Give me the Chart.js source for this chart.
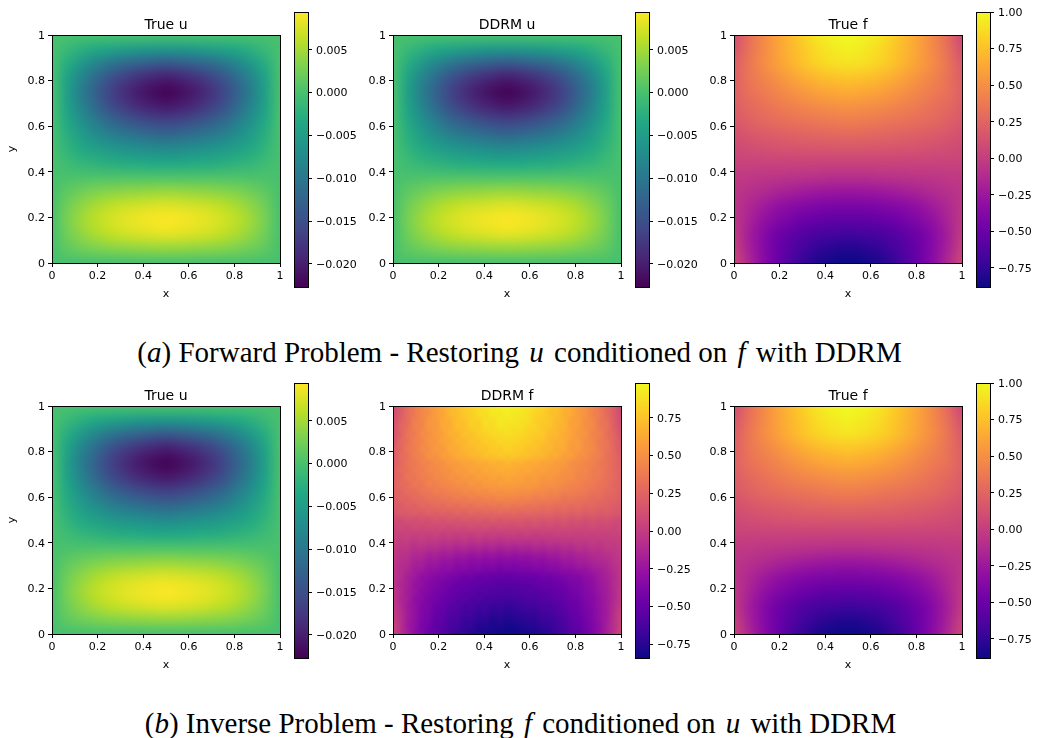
<!DOCTYPE html>
<html>
<head>
<meta charset="utf-8">
<title>DDRM forward and inverse problem</title>
<script src="https://cdn.jsdelivr.net/npm/chart.js@4"></script>
<style>
    html, body { margin: 0; background: #fff; }
    #page { position: relative; width: 1037px; height: 738px; overflow: hidden; }
    #page canvas { position: absolute; }
    .caption {
        position: absolute; transform: translateX(-50%);
        font-family: "Liberation Serif", serif; font-size: 29px; color: #000; white-space: nowrap;
    }
    .caption b { font-weight: normal; font-style: italic; margin: 0 3px; }
</style>
</head>
<body>
<div id="page">
    <div class="caption" style="left: 519.5px; top: 336px">(<i>a</i>) Forward Problem - Restoring <b>u</b> conditioned on <b>f</b> with DDRM</div>
    <div class="caption" style="left: 520.5px; top: 707px">(<i>b</i>) Inverse Problem - Restoring <b>f</b> conditioned on <b>u</b> with DDRM</div>
</div>
<script>
// u values in units of 1e-4, rows run from y=1 down to y=0
const trueU = [
    [0,0,0,0,0,0,0,0,0,0,0,0,0,0,0,0,0],
    [0,-12,-24,-34,-43,-50,-55,-58,-60,-58,-55,-50,-43,-34,-24,-12,0],
    [0,-28,-56,-80,-101,-116,-127,-136,-140,-136,-127,-116,-101,-80,-56,-28,0],
    [0,-40,-80,-114,-144,-166,-182,-194,-200,-194,-182,-166,-144,-114,-80,-40,0],
    [0,-44,-89,-127,-160,-184,-202,-215,-224,-215,-202,-184,-160,-127,-89,-44,0],
    [0,-41,-82,-117,-148,-170,-187,-199,-205,-199,-187,-170,-148,-117,-82,-41,0],
    [0,-33,-66,-94,-119,-137,-150,-160,-165,-160,-150,-137,-119,-94,-66,-33,0],
    [0,-26,-50,-70,-87,-100,-109,-116,-120,-116,-109,-100,-87,-70,-50,-26,0],
    [0,-18,-33,-46,-56,-63,-68,-72,-75,-72,-68,-63,-56,-46,-33,-18,0],
    [0,-8,-16,-22,-27,-30,-32,-34,-35,-34,-32,-30,-27,-22,-16,-8,0],
    [0,2,3,4,5,5,5,5,5,5,5,5,5,4,3,2,0],
    [0,13,23,31,36,40,42,44,45,44,42,40,36,31,23,13,0],
    [0,22,39,52,62,69,73,77,79,77,73,69,62,52,39,22,0],
    [0,26,46,61,72,80,86,90,93,90,86,80,72,61,46,26,0],
    [0,22,39,52,62,69,74,78,80,78,74,69,62,52,39,22,0],
    [0,13,22,29,34,37,39,41,42,41,39,37,34,29,22,13,0],
    [0,0,0,0,0,0,0,0,0,0,0,0,0,0,0,0,0]
];
// DDRM u can't be told apart from true u in the picture
const ddrmU = trueU;

// f values in hundredths, same row order
const trueF = [
    [10,30,45,60,72,84,93,98,100,98,93,84,72,60,45,28,6],
    [15,32,46,59,70,80,88,93,96,93,88,80,70,59,46,31,12],
    [20,35,47,58,68,77,84,88,90,88,84,77,68,58,47,34,18],
    [22,34,43,51,59,66,72,75,77,75,72,66,59,51,43,33,21],
    [22,32,38,44,50,55,60,63,65,63,60,55,50,44,38,32,22],
    [20,27,32,37,41,45,48,50,52,50,48,45,41,37,32,27,20],
    [17,23,27,30,33,35,37,39,40,39,37,35,33,30,27,23,17],
    [12,16,19,21,23,25,26,27,28,27,26,25,23,21,19,16,12],
    [7,10,11,13,14,15,15,16,16,16,15,15,14,13,11,10,7],
    [3,3,3,3,3,3,3,3,3,3,3,3,3,3,3,3,3],
    [-3,-4,-5,-6,-7,-8,-9,-10,-10,-10,-9,-8,-7,-6,-5,-4,-3],
    [-5,-9,-13,-17,-20,-23,-25,-26,-27,-26,-25,-23,-20,-17,-13,-9,-5],
    [-5,-14,-22,-29,-34,-38,-40,-42,-42,-42,-40,-38,-34,-29,-22,-14,-5],
    [-4,-17,-29,-38,-45,-50,-53,-55,-56,-55,-53,-50,-45,-38,-29,-17,-4],
    [-2,-20,-35,-47,-55,-62,-66,-68,-69,-68,-66,-62,-55,-47,-35,-20,-2],
    [2,-18,-35,-49,-60,-69,-75,-79,-81,-79,-75,-69,-60,-49,-35,-18,2],
    [6,-14,-33,-50,-64,-75,-83,-87,-88,-87,-83,-75,-64,-50,-33,-14,6]
];

const ddrmF = [
    [8,20,28,38,43,53,56,64,67,74,76,83,84,90,90,94,93,95,90,90,85,83,76,73,68,62,58,50,45,35,29,20,6],
    [10,18,31,36,46,49,58,60,70,71,78,79,86,85,92,90,94,90,91,86,82,80,74,73,66,64,55,52,42,39,28,21,9],
    [12,23,29,40,44,53,55,63,65,73,74,81,80,87,86,91,90,90,87,86,80,78,76,70,68,59,58,49,46,36,32,20,10],
    [11,25,31,41,43,53,54,63,64,72,72,80,79,86,84,89,88,86,87,82,82,76,75,69,67,59,57,50,46,37,33,22,14],
    [16,22,35,37,47,49,57,58,67,66,74,73,80,79,85,83,87,84,84,80,78,77,70,70,63,61,53,52,43,41,31,26,14],
    [15,28,32,41,43,52,53,61,61,69,68,75,74,80,78,84,81,83,80,79,75,74,69,66,65,57,56,48,46,37,35,25,18],
    [21,25,36,38,47,48,56,55,64,63,70,69,75,74,80,77,82,78,79,74,75,69,70,63,64,55,56,48,47,38,35,26,18],
    [18,29,32,41,42,51,50,58,58,65,64,70,69,75,73,78,75,77,74,74,69,70,64,65,58,58,50,50,42,41,32,28,21],
    [23,26,35,36,43,43,50,49,56,55,61,59,65,63,68,65,70,66,67,63,64,59,60,55,56,49,49,44,42,36,34,27,22],
    [21,30,32,39,39,46,45,51,50,57,55,61,58,64,61,66,64,65,61,63,58,60,55,56,50,50,45,45,39,38,33,27,24],
    [25,26,35,34,41,40,47,45,52,50,55,53,59,56,61,58,62,59,60,56,58,53,54,51,49,48,44,43,38,37,32,29,22],
    [22,29,29,37,35,42,40,46,45,51,48,54,51,57,54,58,56,57,55,54,54,50,51,48,47,43,43,39,38,34,32,26,24],
    [24,24,31,30,36,35,41,38,44,42,47,45,50,47,52,49,52,50,49,50,47,47,44,45,41,41,38,37,33,33,28,27,21],
    [19,25,24,30,28,34,32,37,35,40,37,42,39,44,41,46,43,45,42,43,39,41,38,39,34,36,33,33,29,29,25,24,21],
    [21,19,25,23,28,26,31,28,33,30,35,31,36,33,37,34,38,34,36,33,35,31,33,29,32,28,30,26,27,24,24,20,18],
    [15,20,18,22,19,24,21,25,22,27,23,28,24,28,25,29,26,28,25,27,26,25,26,23,25,22,24,20,22,19,21,17,18],
    [11,9,14,11,15,12,17,13,18,14,18,15,19,15,20,16,19,17,18,16,18,15,17,14,17,13,15,12,14,12,13,10,9],
    [6,9,6,10,7,10,8,11,7,11,8,12,9,12,8,11,10,9,11,9,11,8,10,7,11,8,9,7,10,7,9,6,8],
    [5,3,5,2,4,2,5,1,4,1,3,0,4,1,3,1,2,3,1,4,0,3,1,4,2,4,2,4,2,4,3,5,4],
    [3,0,1,-3,0,-3,-2,-5,-3,-6,-3,-7,-4,-7,-5,-8,-5,-7,-5,-7,-4,-6,-3,-5,-2,-4,-1,-3,0,-2,1,0,2],
    [1,-3,-3,-8,-6,-10,-9,-13,-11,-15,-12,-16,-14,-17,-14,-18,-15,-17,-15,-16,-13,-15,-12,-14,-10,-12,-7,-9,-5,-7,-2,-2,0],
    [-1,-6,-7,-13,-13,-18,-17,-21,-19,-24,-22,-26,-23,-27,-24,-28,-25,-27,-25,-26,-23,-25,-21,-22,-17,-19,-15,-15,-11,-10,-8,-4,-2],
    [-2,-8,-10,-17,-17,-23,-22,-27,-26,-30,-29,-33,-31,-34,-32,-36,-33,-35,-33,-33,-30,-32,-28,-28,-24,-24,-20,-19,-16,-13,-12,-6,-3],
    [-3,-10,-13,-20,-21,-27,-27,-32,-31,-36,-35,-39,-37,-41,-39,-43,-40,-42,-39,-40,-37,-38,-34,-35,-30,-31,-26,-26,-21,-19,-15,-8,-4],
    [-5,-9,-18,-21,-29,-30,-36,-36,-41,-41,-46,-44,-49,-47,-51,-49,-52,-49,-50,-47,-48,-44,-45,-41,-41,-36,-36,-30,-28,-21,-17,-11,-3],
    [-3,-13,-17,-26,-28,-36,-37,-43,-43,-49,-48,-53,-51,-55,-53,-57,-55,-56,-53,-54,-51,-50,-48,-46,-45,-40,-39,-33,-30,-23,-19,-10,-5],
    [-4,-10,-20,-24,-33,-35,-42,-42,-49,-49,-54,-53,-58,-56,-60,-58,-61,-58,-59,-56,-57,-53,-53,-49,-48,-43,-41,-35,-32,-24,-19,-12,-2],
    [-2,-13,-18,-29,-32,-40,-42,-48,-49,-55,-54,-60,-59,-63,-61,-65,-63,-64,-62,-60,-60,-57,-56,-52,-51,-45,-44,-37,-34,-26,-20,-11,-3],
    [-2,-10,-21,-27,-36,-39,-47,-48,-55,-56,-62,-61,-66,-65,-69,-67,-70,-68,-67,-65,-65,-61,-61,-56,-54,-48,-46,-39,-35,-26,-20,-10,0],
    [0,-8,-20,-27,-37,-41,-49,-51,-58,-59,-65,-65,-70,-68,-73,-71,-74,-72,-71,-69,-69,-65,-64,-60,-57,-51,-48,-41,-36,-27,-21,-8,2],
    [2,-7,-20,-27,-38,-42,-51,-53,-61,-62,-68,-68,-73,-72,-77,-75,-78,-76,-75,-73,-72,-68,-68,-63,-60,-53,-50,-43,-37,-27,-20,-7,4],
    [5,-6,-21,-28,-40,-44,-53,-55,-63,-65,-71,-71,-77,-76,-80,-79,-82,-80,-79,-76,-76,-71,-71,-66,-62,-55,-52,-45,-38,-29,-18,-8,4],
    [5,-8,-17,-30,-37,-47,-52,-59,-62,-69,-70,-76,-77,-81,-80,-84,-83,-84,-82,-80,-79,-76,-72,-68,-64,-58,-54,-45,-39,-28,-19,-6,7]
];

const axisTicks = [0, 0.2, 0.4, 0.6, 0.8, 1];
const axisLabels = ['0', '0.2', '0.4', '0.6', '0.8', '1'];

const uBarTicks = [0.005, 0, -0.005, -0.01, -0.015, -0.02];
const uBarLabels = ['0.005', '0.000', '\u22120.005', '\u22120.010', '\u22120.015', '\u22120.020'];
const trueFBarTicks = [1, 0.75, 0.5, 0.25, 0, -0.25, -0.5, -0.75];
const trueFBarLabels = ['1.00', '0.75', '0.50', '0.25', '0.00', '\u22120.25', '\u22120.50', '\u22120.75'];
const ddrmFBarTicks = [0.75, 0.5, 0.25, 0, -0.25, -0.5, -0.75];
const ddrmFBarLabels = ['0.75', '0.50', '0.25', '0.00', '\u22120.25', '\u22120.50', '\u22120.75'];

const uRange = [-0.0227, 0.0094];
const trueFRange = [-0.88, 1.0];
const ddrmFRange = [-0.84, 0.98];

const viridis = ['#440154', '#482475', '#414487', '#355f8d', '#2a788e', '#21918c', '#22a884', '#44bf70', '#7ad151', '#bddf26', '#fde725'];
const plasma = ['#0d0887', '#41049d', '#6a00a8', '#8f0da4', '#b12a90', '#cc4778', '#e16462', '#f2844b', '#fca636', '#fcce25', '#f0f921'];

const FONT = '"DejaVu Sans", sans-serif';
const page = document.getElementById('page');

function addCanvas(left, top, width, height) {
    const canvas = document.createElement('canvas');
    canvas.width = width;
    canvas.height = height;
    canvas.style.left = left + 'px';
    canvas.style.top = top + 'px';
    page.appendChild(canvas);
    return canvas;
}

function hexToRgb(hex) {
    return [1, 3, 5].map(i => parseInt(hex.slice(i, i + 2), 16));
}

function colorAt(stops, t) {
    const pos = Math.min(Math.max(t, 0), 1) * (stops.length - 1);
    const i = Math.min(Math.floor(pos), stops.length - 2);
    const a = hexToRgb(stops[i]);
    const b = hexToRgb(stops[i + 1]);
    return a.map((c, k) => c + (b[k] - c) * (pos - i));
}

// black box round the plot area
const framePlugin = {
    id: 'frame',
    afterDraw(chart) {
        const { left, top, width, height } = chart.chartArea;
        const ctx = chart.ctx;
        ctx.save();
        ctx.strokeStyle = '#000';
        ctx.lineWidth = 1;
        ctx.strokeRect(Math.round(left) + 0.5, Math.round(top) + 0.5, Math.round(width), Math.round(height));
        ctx.restore();
    }
};

// paints the dataset points as image cells, placed with the chart's own scales
function heatPlugin(size, stops, range, unit) {
    return {
        id: 'heat',
        beforeDatasetsDraw(chart) {
            const cells = document.createElement('canvas');
            cells.width = size;
            cells.height = size;
            const cctx = cells.getContext('2d');
            const img = cctx.createImageData(size, size);
            chart.data.datasets[0].data.forEach(p => {
                const rgb = colorAt(stops, (p.v * unit - range[0]) / (range[1] - range[0]));
                const o = (p.row * size + p.col) * 4;
                img.data[o] = rgb[0];
                img.data[o + 1] = rgb[1];
                img.data[o + 2] = rgb[2];
                img.data[o + 3] = 255;
            });
            cctx.putImageData(img, 0, 0);

            const { x, y } = chart.scales;
            const ctx = chart.ctx;
            const x0 = x.getPixelForValue(0);
            const y1 = y.getPixelForValue(1);
            ctx.save();
            ctx.imageSmoothingEnabled = true;
            ctx.imageSmoothingQuality = 'high';
            ctx.drawImage(cells, 0.5, 0.5, size - 1, size - 1, x0, y1, x.getPixelForValue(1) - x0, y.getPixelForValue(0) - y1);
            ctx.restore();
        }
    };
}

function heatmap(left, top, name, grid, stops, range, unit, showY) {
    const size = grid.length;
    const points = [];
    grid.forEach((values, row) => values.forEach((v, col) => {
        points.push({ x: col / (size - 1), y: 1 - row / (size - 1), row, col, v });
    }));
    const axis = (title, show, labelOffset) => ({
        type: 'linear',
        min: 0,
        max: 1,
        afterBuildTicks: s => { s.ticks = axisTicks.map(value => ({ value })); },
        ticks: { color: '#000', padding: 3, maxRotation: 0, labelOffset, font: { family: FONT, size: 11 }, callback: (v, i) => axisLabels[i] },
        grid: { drawOnChartArea: false, tickLength: 4, color: '#000' },
        border: { display: false },
        title: { display: show, text: title, color: '#000', font: { family: FONT, size: 11 }, padding: { top: 4, bottom: 2 } }
    });
    const x = axis('x', true, 0);
    x.afterFit = s => { s.height = 40; };
    const y = axis('y', showY, 1);
    y.afterFit = s => { s.width = 50; };

    new Chart(addCanvas(left - 50, top - 30, 228 + 60, 228 + 70), {
        type: 'scatter',
        data: { datasets: [{ label: name, data: points, pointRadius: 0 }] },
        options: {
            responsive: false,
            animation: false,
            events: [],
            layout: { padding: { right: 10 } },
            scales: { x, y },
            plugins: {
                legend: { display: false },
                tooltip: { enabled: false },
                title: {
                    display: true,
                    fullSize: false,
                    text: name,
                    color: '#000',
                    font: { family: FONT, size: 14, weight: 'normal' },
                    padding: { top: 11.7, bottom: 1.5 }
                }
            }
        },
        plugins: [heatPlugin(size, stops, range, unit), framePlugin]
    });
}

function colorbar(left, top, stops, range, barTicks, barLabels) {
    new Chart(addCanvas(left, top - 12, 14 + 70, 275 + 24), {
        type: 'bar',
        data: {
            labels: [''],
            datasets: [{
                data: [range],
                barPercentage: 1,
                categoryPercentage: 1,
                backgroundColor(context) {
                    const { chart } = context;
                    if (!chart.chartArea) return stops[0];
                    const g = chart.ctx.createLinearGradient(0, chart.chartArea.bottom, 0, chart.chartArea.top);
                    stops.forEach((c, i) => g.addColorStop(i / (stops.length - 1), c));
                    return g;
                }
            }]
        },
        options: {
            responsive: false,
            animation: false,
            events: [],
            layout: { padding: { top: 12, bottom: 12 } },
            scales: {
                x: { display: false },
                y: {
                    position: 'right',
                    min: range[0],
                    max: range[1],
                    afterBuildTicks: s => { s.ticks = barTicks.map(value => ({ value })); },
                    afterFit: s => { s.width = 70; },
                    ticks: { color: '#000', padding: 4, autoSkip: false, labelOffset: 1, font: { family: FONT, size: 11 }, callback: (v, i) => barLabels[i] },
                    grid: { drawOnChartArea: false, tickLength: 4, color: '#000' },
                    border: { display: false }
                }
            },
            plugins: { legend: { display: false }, tooltip: { enabled: false } }
        },
        plugins: [framePlugin]
    });
}

const U_UNIT = 1e-4;
const F_UNIT = 0.01;

// top row
heatmap(52, 35, 'True u', trueU, viridis, uRange, U_UNIT, true);
colorbar(294, 12, viridis, uRange, uBarTicks, uBarLabels);
heatmap(393, 35, 'DDRM u', ddrmU, viridis, uRange, U_UNIT, false);
colorbar(635, 12, viridis, uRange, uBarTicks, uBarLabels);
heatmap(734, 35, 'True f', trueF, plasma, trueFRange, F_UNIT, false);
colorbar(976, 12, plasma, trueFRange, trueFBarTicks, trueFBarLabels);

// bottom row
heatmap(52, 406, 'True u', trueU, viridis, uRange, U_UNIT, true);
colorbar(294, 383, viridis, uRange, uBarTicks, uBarLabels);
heatmap(393, 406, 'DDRM f', ddrmF, plasma, ddrmFRange, F_UNIT, false);
colorbar(635, 383, plasma, ddrmFRange, ddrmFBarTicks, ddrmFBarLabels);
heatmap(734, 406, 'True f', trueF, plasma, trueFRange, F_UNIT, false);
colorbar(976, 383, plasma, trueFRange, trueFBarTicks, trueFBarLabels);
</script>
</body>
</html>
